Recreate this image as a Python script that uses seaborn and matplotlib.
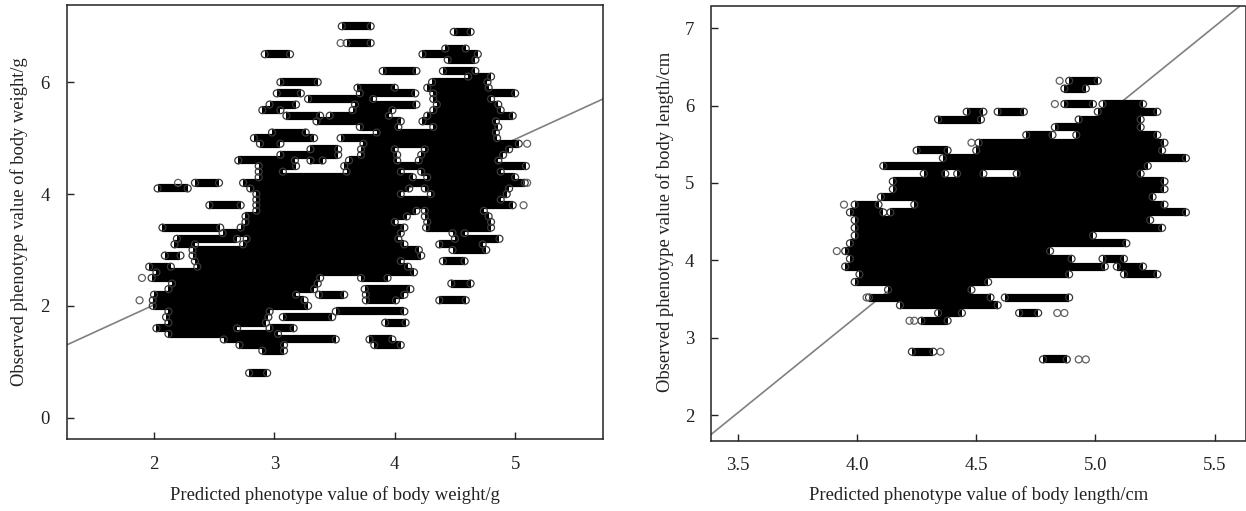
import pandas as pd
import seaborn as sns
import matplotlib
matplotlib.use("Agg")
import matplotlib.pyplot as plt

sns.set_style("ticks")
plt.rcParams["font.family"] = ["Liberation Serif", "DejaVu Serif"]

# body weight: observed level and predicted ranges on that level
weight_levels = [7.0, 6.9, 6.7, 6.6, 6.5, 6.4, 6.2, 6.1, 6.0, 5.9, 5.8, 5.7, 5.6, 5.5, 5.4, 5.3, 5.2, 5.1, 5.0, 4.9,
                 4.8, 4.7, 4.6, 4.5, 4.4, 4.3, 4.2, 4.1, 4.0, 3.9, 3.8, 3.7, 3.6, 3.5, 3.4, 3.3, 3.2, 3.1, 3.0, 2.9,
                 2.8, 2.7, 2.6, 2.5, 2.4, 2.3, 2.2, 2.1, 2.0, 1.9, 1.8, 1.7, 1.6, 1.5, 1.4, 1.3, 1.2, 0.8]
weight_ranges = [
    [(3.56, 3.80)], [(4.49, 4.63)], [(3.60, 3.80)], [(4.42, 4.59)],
    [(2.92, 3.13), (4.23, 4.69)], [(4.44, 4.67)], [(3.90, 4.18), (4.40, 4.67)], [(4.61, 4.80)],
    [(3.05, 3.36), (4.31, 4.77)], [(3.69, 4.00), (4.27, 4.78)], [(3.02, 3.22), (3.71, 4.17), (4.32, 5.00)],
    [(3.28, 3.82), (4.32, 4.80)], [(2.96, 3.18), (3.67, 4.18), (4.35, 4.86)], [(2.90, 3.05), (3.65, 3.98), (4.32, 4.88)],
    [(3.10, 3.38), (3.46, 3.95), (4.27, 4.98)], [(3.35, 4.05), (4.23, 4.84)], [(3.71, 4.03), (4.32, 4.86)],
    [(2.98, 3.26), (3.85, 4.84)], [(2.83, 3.33), (3.55, 4.85)], [(2.88, 3.05), (3.74, 5.03)],
    [(3.30, 3.53), (3.72, 4.00), (4.25, 4.95)], [(3.05, 3.53), (3.72, 4.02), (4.22, 4.90)],
    [(2.70, 3.17), (3.30, 3.40), (3.62, 4.02), (4.20, 4.86)], [(2.87, 3.18), (3.58, 5.09)],
    [(2.87, 3.07), (3.60, 4.05), (4.22, 4.88)], [(2.87, 4.15), (4.27, 5.00)],
    [(2.34, 2.54), (2.74, 5.08)], [(2.03, 2.28), (2.80, 4.12), (4.25, 4.95)], [(2.85, 4.05), (4.30, 4.93)],
    [(2.85, 4.88)], [(2.46, 2.72), (2.85, 4.98)], [(2.85, 4.18), (4.25, 4.74)], [(2.76, 4.10), (4.25, 4.78)],
    [(2.76, 4.00), (4.27, 4.80)], [(2.07, 2.55), (2.72, 4.08), (4.26, 4.80)], [(2.57, 4.05), (4.48, 4.58)],
    [(2.19, 2.69), (2.77, 4.03), (4.50, 4.87)], [(2.17, 2.34), (2.74, 4.08), (4.37, 4.73)],
    [(2.32, 4.20), (4.48, 4.76)], [(2.09, 2.22), (2.32, 4.22)], [(2.34, 4.05), (4.40, 4.58)],
    [(1.96, 2.14), (2.36, 4.11)], [(2.02, 4.16)], [(1.98, 3.38), (3.72, 3.94)], [(2.15, 3.36), (4.47, 4.63)],
    [(2.12, 3.33), (3.75, 4.13)], [(2.00, 3.18), (3.37, 3.58), (3.76, 4.08)], [(1.99, 3.25), (3.76, 4.01), (4.37, 4.59)],
    [(1.99, 3.28)], [(2.12, 2.96), (3.51, 4.08)], [(2.10, 2.95), (3.07, 3.48)], [(2.12, 2.93), (3.92, 4.09)],
    [(2.02, 2.69), (2.96, 3.16)], [(2.12, 3.03)], [(2.58, 3.51), (3.79, 3.98)], [(2.71, 3.08), (3.83, 4.05)],
    [(2.90, 3.08)], [(2.79, 2.94)],
]
weight_lone_x = [3.55, 5.07, 5.10, 5.10, 1.88, 1.90, 2.20]
weight_lone_y = [6.7, 3.8, 4.9, 4.2, 2.1, 2.5, 4.2]
weight_fit_x = [1.273, 5.73]
weight_fit_y = [1.30, 5.70]

# body length
length_levels = [6.32, 6.22, 6.02, 5.92, 5.82, 5.72, 5.62, 5.52, 5.42, 5.32, 5.22, 5.12, 5.02, 4.92, 4.82, 4.72, 4.62,
                 4.52, 4.42, 4.32, 4.22, 4.12, 4.02, 3.92, 3.82, 3.72, 3.62, 3.52, 3.42, 3.32, 3.22, 2.82, 2.72]
length_ranges = [
    [(4.89, 5.01)], [(4.87, 4.96)], [(4.87, 4.99), (5.03, 5.20)], [(4.46, 4.53), (4.59, 4.70), (5.01, 5.26)],
    [(4.34, 4.52), (4.93, 5.19)], [(4.83, 5.19)], [(4.71, 4.82), (4.92, 5.26)], [(4.51, 5.29)],
    [(4.25, 4.38), (4.50, 5.28)], [(4.36, 5.38)], [(4.11, 5.22)], [(4.28, 4.37), (4.42, 4.53), (4.67, 5.19)],
    [(4.15, 5.29)], [(4.15, 5.29)], [(4.10, 5.24)], [(3.99, 4.09), (4.24, 5.29)], [(3.97, 4.11), (4.14, 5.38)],
    [(3.99, 5.23)], [(3.99, 5.28)], [(3.99, 4.99)], [(3.97, 5.13)], [(3.95, 4.81)], [(3.97, 4.90), (5.03, 5.12)],
    [(3.95, 5.04), (5.09, 5.20)], [(4.01, 4.89), (5.12, 5.26)], [(3.99, 4.55)], [(4.13, 4.48)],
    [(4.05, 4.56), (4.62, 4.89)], [(4.18, 4.59)], [(4.34, 4.44), (4.68, 4.76)], [(4.27, 4.38)],
    [(4.23, 4.32)], [(4.78, 4.88)],
]
length_lone_x = [4.85, 4.83, 4.48, 3.945, 3.915, 4.35, 4.22, 4.24, 4.84, 4.87, 4.93, 4.96, 4.04]
length_lone_y = [6.32, 6.02, 5.52, 4.72, 4.12, 2.82, 3.22, 3.22, 3.32, 3.32, 2.72, 2.72, 3.52]
length_fit_x = [3.387, 5.604]
length_fit_y = [1.75, 7.28]


def streak_table(levels, ranges):
    rows = []
    n = 0
    for obs, spans in zip(levels, ranges):
        for x0, x1 in spans:
            rows.append({"pred": x0, "obs": obs, "streak": n})
            rows.append({"pred": x1, "obs": obs, "streak": n})
            n += 1
    return pd.DataFrame(rows)


def draw_panel(ax, levels, ranges, lone_x, lone_y, fit_x, fit_y):
    df = streak_table(levels, ranges)
    sns.lineplot(x=fit_x, y=fit_y, color="#808080", linewidth=1.2, ax=ax, zorder=1)
    sns.lineplot(data=df, x="pred", y="obs", units="streak", estimator=None, color="black",
                 linewidth=5.9, solid_capstyle="butt", ax=ax, zorder=2)
    # open circles at the ends of each run, and the lone ones
    sns.scatterplot(data=df, x="pred", y="obs", s=25, facecolor="none", edgecolor="#383838",
                    linewidth=0.9, ax=ax, zorder=3)
    sns.scatterplot(x=lone_x, y=lone_y, s=25, facecolor="none", edgecolor="#606060",
                    linewidth=0.9, ax=ax, zorder=3)


W, H = 1246, 511
fig = plt.figure(figsize=(W / 100, H / 100), dpi=100)
ax1 = fig.add_axes([66.5 / W, 1 - 439 / H, (603 - 66.5) / W, (439 - 5) / H])
ax2 = fig.add_axes([711 / W, 1 - 440.7 / H, (1245.5 - 711) / W, (440.7 - 6.5) / H])

draw_panel(ax1, weight_levels, weight_ranges, weight_lone_x, weight_lone_y, weight_fit_x, weight_fit_y)
draw_panel(ax2, length_levels, length_ranges, length_lone_x, length_lone_y, length_fit_x, length_fit_y)

ax1.set_xlim(1.273, 5.73)
ax1.set_ylim(-0.38, 7.38)
ax1.set_xticks([2, 3, 4, 5])
ax1.set_yticks([0, 2, 4, 6])
ax2.set_xlim(3.387, 5.63)
ax2.set_ylim(1.67, 7.28)
ax2.set_xticks([3.5, 4.0, 4.5, 5.0, 5.5])
ax2.set_yticks([2, 3, 4, 5, 6, 7])

for ax in (ax1, ax2):
    ax.tick_params(direction="in", length=5, width=1, color="#222222", labelsize=13.5, pad=12, labelcolor="#222222")
    ax.tick_params(axis="y", pad=12)
    for sp in ax.spines.values():
        sp.set_visible(True)
        sp.set_linewidth(1.1)
        sp.set_color("#222222")
    ax.set_xlabel("")
    ax.set_ylabel("")

fig.text(335 / W, 1 - 495 / H, "Predicted phenotype value of body weight/g", ha="center", va="center", fontsize=13.4, color="#222222")
fig.text(979 / W, 1 - 495 / H, "Predicted phenotype value of body length/cm", ha="center", va="center", fontsize=13.4, color="#222222")
fig.text(19 / W, 1 - 222 / H, "Observed phenotype value of body weight/g", rotation=90, ha="center", va="center", fontsize=13.35, color="#222222")
fig.text(665 / W, 1 - 222 / H, "Observed phenotype value of body length/cm", rotation=90, ha="center", va="center", fontsize=13.45, color="#222222")

fig.savefig("out.png", dpi=100)
